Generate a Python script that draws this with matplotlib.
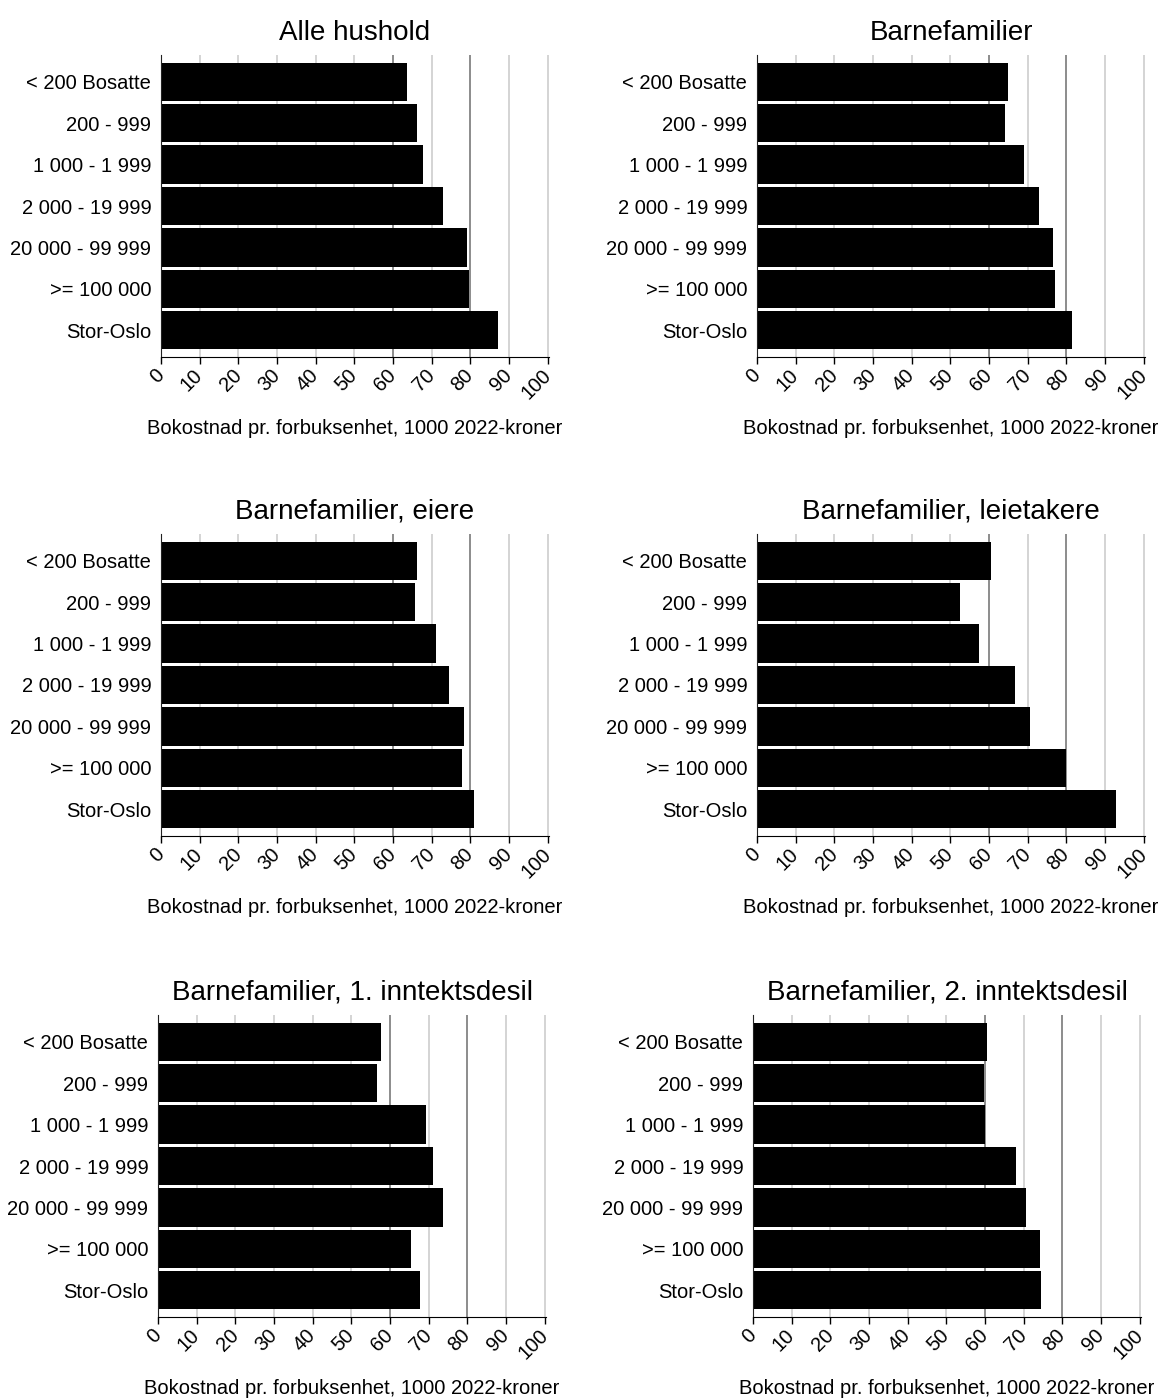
import numpy as np
import matplotlib
matplotlib.use("Agg")
import matplotlib.pyplot as plt

plt.rcParams['font.family'] = ['Liberation Sans', 'DejaVu Sans']

# %% data
categories = ['< 200 Bosatte', '200 - 999', '1 000 - 1 999', '2 000 - 19 999',
              '20 000 - 99 999', '>= 100 000', 'Stor-Oslo']

titles = ['Alle hushold', 'Barnefamilier',
          'Barnefamilier, eiere', 'Barnefamilier, leietakere',
          'Barnefamilier, 1. inntektsdesil', 'Barnefamilier, 2. inntektsdesil']

alle_hushold = [63.7, 66.3, 67.8, 72.9, 79.2, 79.7, 87.2]
barnefamilier = [64.9, 64.0, 69.0, 72.9, 76.5, 77.0, 81.4]
barn_eiere = [66.3, 65.7, 71.1, 74.4, 78.3, 77.7, 80.9]
barn_leietakere = [60.4, 52.4, 57.3, 66.8, 70.6, 79.9, 92.8]
barn_desil1 = [57.7, 56.6, 69.4, 71.0, 73.7, 65.3, 67.7]
barn_desil2 = [60.6, 59.8, 59.9, 67.9, 70.5, 74.1, 74.5]

series = [alle_hushold, barnefamilier, barn_eiere,
          barn_leietakere, barn_desil1, barn_desil2]

xticks = list(range(0, 101, 10))
dark_lines = [60, 80]
xlabel = 'Bokostnad pr. forbuksenhet, 1000 2022-kroner'

# %% layout (pixels -> figure fractions)
W, H = 1164, 1399
lefts = [161, 757, 161, 757, 158, 753]
tops = [55, 55, 534, 534, 1015, 1015]
ax_w, ax_h = 388, 302

fig = plt.figure(figsize=(W / 100, H / 100), dpi=100)

for i in range(6):
    ax = fig.add_axes([lefts[i] / W, 1 - (tops[i] + ax_h) / H, ax_w / W, ax_h / H])
    y = np.arange(len(categories))
    for t in xticks:
        c = '#8c8c8c' if t in dark_lines else '#d4d4d4'
        ax.axvline(t, color=c, lw=1.4, zorder=0)
    ax.barh(y, series[i], height=0.93, color='black', zorder=2)
    ax.set_ylim(6.65, -0.65)
    ax.set_xlim(0, 100.3)
    ax.set_xticks(xticks)
    ax.set_xticklabels([str(t) for t in xticks], rotation=45, ha='right',
                       va='center', rotation_mode='anchor', fontsize=14.5)
    ax.set_yticks(y)
    ax.set_yticklabels(categories, fontsize=14.5)
    ax.tick_params(axis='y', length=0, pad=7)
    ax.tick_params(axis='x', length=5, width=1, pad=6, color='black')
    for s in ['top', 'right']:
        ax.spines[s].set_visible(False)
    ax.spines['left'].set_color('#222222')
    ax.spines['bottom'].set_color('black')
    ax.set_title(titles[i], fontsize=20, pad=11)
    ax.set_xlabel(xlabel, fontsize=14.5, va='center')
    ax.xaxis.set_label_coords(0.5, -0.237)

plt.savefig('out.png', dpi=100)
